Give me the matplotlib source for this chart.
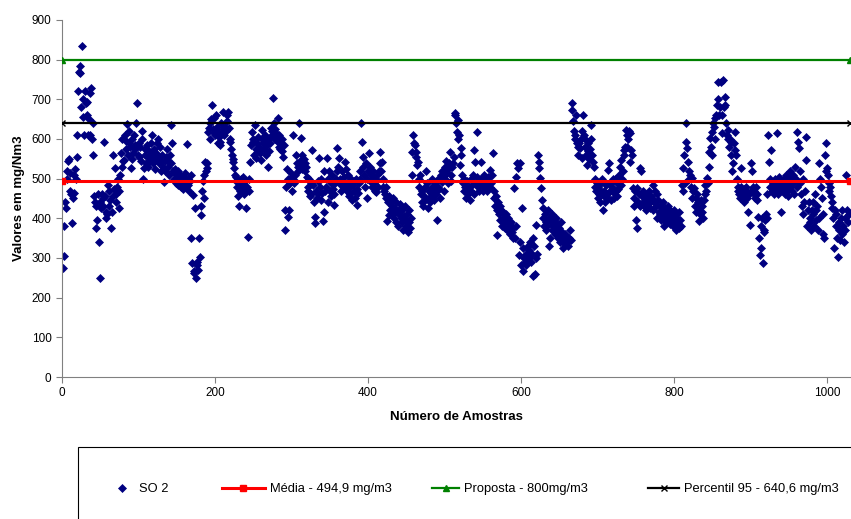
import numpy as np
import matplotlib.pyplot as plt
from matplotlib.patches import Rectangle

plt.rcParams['font.family'] = ['Liberation Sans', 'DejaVu Sans']

# valores SO2 (mg/Nm3), amostra 1..1028
so2 = [
    275, 305, 380, 440, 425, 500, 520, 545, 550, 470,
    515, 460, 387, 450, 465, 510, 525, 500, 555, 610,
    720, 770, 785, 765, 680, 835, 655, 700, 610, 720,
    690, 694, 660, 610, 650, 715, 610, 728, 600, 640,
    560, 455, 440, 430, 375, 395, 460, 340, 250, 440,
    425, 460, 450, 430, 593, 455, 415, 400, 410, 485,
    430, 470, 445, 376, 415, 455, 560, 475, 526, 440,
    460, 480, 500, 470, 425, 510, 564, 530, 600, 545,
    547, 610, 575, 595, 637, 560, 590, 620, 580, 526,
    600, 550, 565, 610, 585, 575, 640, 691, 560, 590,
    555, 580, 545, 600, 620, 500, 526, 560, 575, 540,
    585, 555, 530, 570, 545, 590, 560, 610, 540, 575,
    550, 525, 565, 590, 600, 555, 540, 580, 520, 545,
    560, 530, 492, 545, 520, 555, 575, 530, 545, 510,
    560, 634, 540, 589, 520, 500, 525, 515, 490, 505,
    520, 485, 500, 510, 480, 495, 500, 475, 505, 490,
    515, 480, 587, 500, 485, 470, 495, 350, 509, 287,
    459, 266, 262, 425, 249, 282, 290, 270, 351, 303,
    430, 408, 470, 495, 450, 510, 543, 520, 526, 540,
    618, 627, 600, 640, 650, 686, 625, 652, 615, 610,
    660, 630, 620, 590, 605, 585, 593, 640, 615, 625,
    669, 610, 630, 620, 644, 660, 669, 627, 600, 593,
    575, 560, 550, 543, 526, 510, 495, 505, 480, 455,
    430, 470, 490, 500, 485, 475, 505, 460, 495, 470,
    425, 480, 354, 500, 470, 543, 585, 618, 593, 600,
    560, 635, 575, 551, 590, 605, 570, 580, 565, 547,
    600, 623, 590, 575, 610, 560, 600, 585, 530, 570,
    600, 590, 627, 610, 620, 704, 640, 625, 600, 615,
    595, 652, 580, 610, 575, 590, 600, 570, 555, 585,
    371, 420, 480, 525, 404, 500, 421, 490, 515, 470,
    505, 610, 490, 495, 510, 560, 540, 530, 518, 640,
    545, 602, 560, 525, 535, 550, 520, 540, 530, 505,
    480, 470, 500, 455, 490, 460, 572, 485, 442, 404,
    387, 470, 450, 495, 460, 551, 480, 445, 500, 465,
    392, 518, 417, 470, 480, 551, 440, 500, 518, 470,
    455, 490, 510, 475, 434, 460, 490, 500, 520, 576,
    530, 551, 500, 485, 470, 520, 490, 505, 480, 543,
    525, 490, 470, 510, 455, 480, 460, 500, 445, 485,
    470, 495, 450, 500, 475, 434, 465, 490, 520, 500,
    640, 593, 530, 555, 510, 480, 539, 450, 500, 520,
    564, 530, 495, 510, 480, 520, 500, 490, 470, 467,
    500, 510, 480, 520, 540, 568, 518, 543, 500, 480,
    470, 460, 450, 480, 392, 440, 408, 455, 420, 440,
    430, 410, 450, 400, 425, 390, 440, 415, 380, 420,
    410, 435, 400, 390, 420, 370, 405, 430, 380, 395,
    410, 366, 390, 420, 375, 400, 509, 568, 610, 590,
    585, 555, 568, 535, 543, 500, 480, 509, 460, 440,
    470, 430, 455, 445, 480, 518, 490, 425, 450, 470,
    440, 465, 500, 480, 455, 445, 470, 490, 460, 396,
    480, 500, 475, 450, 510, 492, 520, 505, 470, 530,
    500, 545, 515, 490, 525, 540, 568, 510, 495, 530,
    540, 555, 660, 665, 640, 618, 648, 600, 610, 534,
    576, 560, 510, 490, 470, 500, 480, 450, 495, 470,
    460, 480, 445, 500, 470, 485, 510, 460, 572, 543,
    490, 505, 618, 480, 470, 495, 543, 500, 485, 470,
    510, 490, 480, 500, 470, 485, 505, 495, 480, 522,
    490, 510, 564, 470, 450, 430, 455, 420, 358, 440,
    410, 430, 395, 420, 380, 400, 415, 390, 375, 410,
    395, 370, 400, 385, 360, 380, 390, 365, 350, 375,
    476, 350, 505, 380, 539, 526, 308, 340, 539, 282,
    425, 266, 324, 300, 290, 310, 282, 295, 330, 320,
    300, 340, 290, 310, 255, 350, 330, 259, 383, 300,
    310, 560, 543, 526, 501, 476, 446, 425, 400, 380,
    410, 390, 370, 380, 420, 329, 400, 350, 390, 370,
    410, 380, 395, 360, 400, 370, 385, 350, 375, 360,
    340, 390, 365, 350, 325, 345, 360, 335, 355, 340,
    330, 350, 345, 371, 345, 690, 673, 644, 620, 610,
    600, 660, 590, 580, 560, 590, 576, 600, 551, 620,
    660, 610, 580, 600, 560, 534, 590, 570, 550, 575,
    600, 635, 560, 543, 530, 480, 500, 470, 490, 450,
    480, 460, 440, 490, 470, 500, 421, 455, 470, 440,
    485, 460, 522, 450, 539, 470, 490, 445, 480, 500,
    465, 450, 500, 470, 490, 455, 475, 510, 530, 485,
    547, 500, 520, 560, 572, 580, 623, 610, 580, 600,
    620, 614, 543, 572, 560, 476, 450, 430, 470, 396,
    375, 476, 440, 460, 526, 430, 518, 455, 440, 470,
    430, 450, 420, 445, 460, 435, 470, 425, 440, 455,
    450, 484, 420, 440, 470, 430, 400, 460, 445, 415,
    430, 410, 395, 420, 440, 400, 380, 425, 410, 390,
    415, 430, 400, 385, 420, 395, 410, 380, 405, 420,
    390, 410, 370, 400, 385, 415, 375, 395, 380, 484,
    526, 470, 560, 490, 640, 593, 576, 543, 518, 500,
    510, 480, 501, 450, 470, 476, 430, 450, 417, 460,
    440, 392, 420, 410, 445, 430, 415, 400, 446, 460,
    484, 470, 501, 490, 568, 530, 602, 580, 560, 618,
    640, 630, 600, 652, 660, 686, 744, 700, 660, 681,
    744, 660, 614, 749, 680, 707, 686, 640, 610, 600,
    623, 580, 600, 560, 593, 518, 540, 590, 618, 572,
    560, 500, 480, 470, 460, 450, 480, 526, 470, 455,
    442, 475, 460, 480, 450, 465, 417, 460, 383, 470,
    539, 518, 480, 460, 470, 450, 480, 460, 445, 404,
    350, 308, 380, 324, 400, 287, 370, 366, 395, 410,
    400, 460, 610, 543, 480, 500, 572, 470, 490, 460,
    480, 500, 470, 614, 490, 460, 505, 480, 470, 417,
    490, 470, 500, 480, 460, 509, 490, 470, 455, 500,
    520, 480, 500, 470, 510, 490, 460, 530, 500, 480,
    618, 593, 576, 520, 490, 460, 430, 500, 410, 440,
    470, 606, 547, 380, 420, 440, 400, 390, 370, 420,
    440, 410, 380, 460, 420, 395, 430, 370, 400, 539,
    500, 480, 450, 360, 410, 350, 560, 589, 520, 526,
    510, 490, 470, 480, 455, 440, 425, 400, 324, 420,
    380, 410, 350, 303, 390, 370, 345, 400, 360, 420,
    380, 341, 400, 370, 509, 420, 390, 410,
]
amostras = np.arange(1, len(so2) + 1)

media = 494.9
proposta = 800
percentil95 = 640.6
x_linhas = [0, 1030]

fig = plt.figure(figsize=(8.51, 5.19), dpi=100)
ax = fig.add_axes([0.0729, 0.2736, 0.926, 0.688])

h_so2, = ax.plot(amostras, so2, linestyle='none', marker='D', ms=3.8,
                 color='#000080', mec='#000080', mew=0.5, zorder=2)
h_med, = ax.plot(x_linhas, [media] * 2, color='#ff0000', lw=2.2, marker='s',
                 ms=4, zorder=3)
h_prop, = ax.plot(x_linhas, [proposta] * 2, color='#008000', lw=1.6,
                  marker='^', ms=4, zorder=3)
h_p95, = ax.plot(x_linhas, [percentil95] * 2, color='black', lw=1.6,
                 marker='x', ms=5, mew=1, zorder=3)

ax.set_xlim(0, 1030)
ax.set_ylim(0, 900)
ax.set_xticks(range(0, 1001, 200))
ax.set_yticks(range(0, 901, 100))
ax.spines['top'].set_visible(False)
ax.spines['right'].set_visible(False)
ax.spines['left'].set_color('#808080')
ax.spines['bottom'].set_color('#808080')
ax.tick_params(direction='out', length=4, color='#808080', labelsize=8.5)
ax.set_xlabel('Número de Amostras', fontsize=9.5, fontweight='bold', labelpad=8)
ax.set_ylabel('Valores em mg/Nm3', fontsize=9.5, fontweight='bold', labelpad=5)

# caixa da legenda (cortada pela borda da figura, como no original)
fig.patches.append(Rectangle((78 / 851, -0.1), 1.0, 72 / 519 + 0.1,
                             transform=fig.transFigure, fill=False,
                             edgecolor='black', lw=0.8))

entradas = [
    (h_so2, 'SO 2', 110, 1.85),
    (h_med, 'Média - 494,9 mg/m3', 222, 3.3),
    (h_prop, 'Proposta - 800mg/m3', 432, 2.1),
    (h_p95, 'Percentil 95 - 640,6 mg/m3', 648, 2.4),
]
for h, txt, xpx, hl in entradas:
    leg = fig.legend([h], [txt], loc='center left',
                     bbox_to_anchor=(xpx / 851, 1 - 489 / 519),
                     frameon=False, fontsize=9.3, handlelength=hl,
                     handletextpad=0.4, borderpad=0, borderaxespad=0,
                     numpoints=1)

plt.savefig('out.png', dpi=100)
